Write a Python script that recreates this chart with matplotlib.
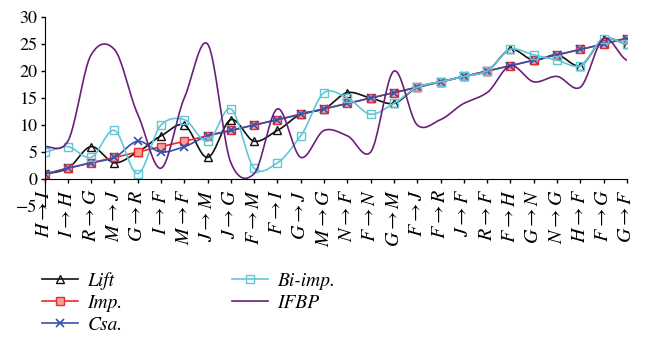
import matplotlib
matplotlib.use('Agg')
import matplotlib.pyplot as plt
from matplotlib.lines import Line2D
import numpy as np

pairs = ['H→I', 'I→H', 'R→G', 'M→J', 'G→R', 'I→F', 'M→F', 'J→M', 'J→G',
         'F→M', 'F→I', 'G→J', 'M→G', 'N→F', 'F→N', 'G→M', 'F→J', 'F→R',
         'J→F', 'R→F', 'F→H', 'G→N', 'N→G', 'H→F', 'F→G', 'G→F']

lift = [1, 2, 6, 3, 5, 8, 10, 4, 11, 7, 9, 12, 13, 16, 15, 14, 17, 18, 19,
        20, 24, 22, 23, 21, 26, 25]
imp = [1, 2, 3, 4, 5, 6, 7, 8, 9, 10, 11, 12, 13, 14, 15, 16, 17, 18, 19,
       20, 21, 22, 23, 24, 25, 26]
csa = [1, 2, 3, 4, 7, 5, 6, 8, 9, 10, 11, 12, 13, 14, 15, 16, 17, 18, 19,
       20, 21, 22, 23, 24, 25, 26]
bi_imp = [5, 6, 4, 9, 1, 10, 11, 7, 13, 2, 3, 8, 16, 15, 12, 14, 17, 18, 19,
          20, 24, 23, 22, 21, 26, 25]
ifbp = [6, 7, 23, 24, 12, 2, 15, 25, 3, 1, 13, 4, 9, 8, 5, 20, 10, 11, 14,
        16, 21, 18, 19, 17, 26, 22]

SERIF = ['STIXGeneral', 'Liberation Serif', 'DejaVu Serif']


def smooth(y, n=20, k=0.42):
    # cardinal spline, close to the smoothed lines of a spreadsheet
    y = np.asarray(y, dtype=float)
    p = np.concatenate([[y[0]], y, [y[-1]]])
    xs, ys = [], []
    t = np.linspace(0, 1, n, endpoint=False)
    for i in range(len(y) - 1):
        p0, p1, p2, p3 = p[i], p[i + 1], p[i + 2], p[i + 3]
        m1 = (p2 - p0) * k
        m2 = (p3 - p1) * k
        h00 = 2 * t**3 - 3 * t**2 + 1
        h10 = t**3 - 2 * t**2 + t
        h01 = -2 * t**3 + 3 * t**2
        h11 = t**3 - t**2
        xs.append(i + t)
        ys.append(h00 * p1 + h10 * m1 + h01 * p2 + h11 * m2)
    xs.append([len(y) - 1])
    ys.append([y[-1]])
    return np.concatenate(xs), np.concatenate(ys)


def math_label(s):
    a, b = s.split('→')
    return '$' + a + r' \rightarrow ' + b + '$'


plt.rcParams['font.family'] = SERIF
plt.rcParams['mathtext.fontset'] = 'stix'
fig = plt.figure(figsize=(6.5, 3.4), dpi=100)
ax = fig.add_axes([0.0685, 0.394, 0.896, 0.556])

x = np.arange(len(pairs))
series = [
    ('Lift', lift, '#111111', dict(marker='^', mfc='none', ms=5.5)),
    ('Imp.', imp, '#ee2a2a', dict(marker='s', mfc='#f4a0a0', ms=5.5)),
    ('Csa.', csa, '#3352a8', dict(marker='x', ms=5.5, mew=1.2)),
    ('Bi-imp.', bi_imp, '#62c6d8', dict(marker='s', mfc='none', ms=6)),
    ('IFBP', ifbp, '#6a2078', dict(marker=None)),
]
for name, vals, color, mk in series:
    sx, sy = smooth(vals)
    ax.plot(sx, sy, color=color, lw=1.2)
    ax.plot(x, vals, color=color, ls='none', **mk)

for s in ['top', 'right']:
    ax.spines[s].set_visible(False)
ax.spines['bottom'].set_position(('data', 0))

ax.set_xlim(0, len(pairs) - 1)
ax.set_ylim(-5, 30)
ax.set_yticks(range(-5, 31, 5))
ax.set_yticklabels(['−5'] + [str(v) for v in range(0, 31, 5)], fontsize=13)
ax.set_xticks(x)
ax.set_xticklabels([math_label(p) for p in pairs], rotation=90, fontsize=14.5)
ax.tick_params(axis='both', direction='out', length=3, width=1, pad=2)
ax.tick_params(axis='x', pad=4)

leg_handles = [Line2D([], [], color=c, lw=1.2, **mk) for _, _, c, mk in series]
fig.legend(leg_handles, [s[0] for s in series], ncol=2,
           loc='upper left', bbox_to_anchor=(0.052, 0.225),
           frameon=False, prop={'family': SERIF, 'style': 'italic', 'size': 14},
           handlelength=1.85, labelspacing=0.2, columnspacing=5.6,
           handletextpad=0.5, borderaxespad=0)

fig.savefig('out.png', dpi=100)
